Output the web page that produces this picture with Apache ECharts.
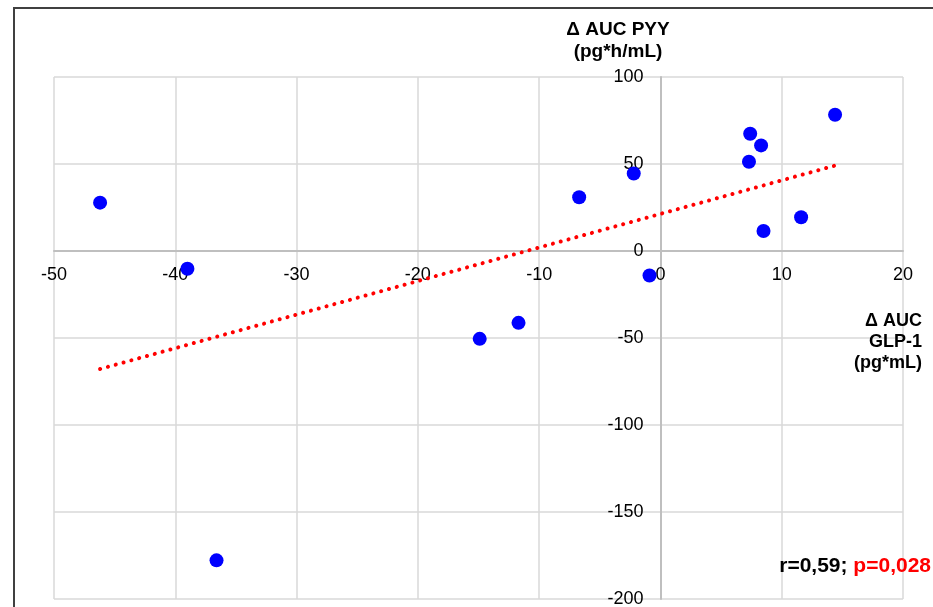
<!DOCTYPE html>
<html>
<head>
<meta charset="utf-8">
<script src="https://cdn.jsdelivr.net/npm/echarts@6/dist/echarts.min.js"></script>
<style>
  html, body { margin: 0; padding: 0; background: #fff; }
  #frame { position: absolute; left: 13px; top: 7px; width: 920px; height: 600px;
           border-left: 2px solid #404040; border-top: 2px solid #404040; }
  #chart { position: absolute; left: 0; top: 0; width: 933px; height: 607px; }
</style>
</head>
<body>
<div id="frame"></div>
<div id="chart"></div>
<script>
// Δ AUC GLP-1 (x) vs Δ AUC PYY (y), one point per subject
var glp1 = [-46.2, -39.0, -36.6, -14.9, -11.7, -6.7, -2.2, -0.9, 7.3, 7.4, 8.3, 8.5, 11.6, 14.4];
var pyy = [27.8, -10.2, -177.8, -50.5, -41.3, 30.9, 44.5, -14.1, 51.3, 67.4, 60.7, 11.5, 19.4, 78.3];

// linear trend line, endpoints
var trendX = [-46.2, 14.4];
var trendY = [-67.8, 49.1];

var xTicks = { min: -50, max: 20, step: 10 };
var yTicks = { min: -200, max: 100, step: 50 };

var chart = echarts.init(document.getElementById('chart'));
var font = 'Liberation Sans, Arial, sans-serif';

var points = glp1.map(function (x, i) { return [x, pyy[i]]; });
var trend = trendX.map(function (x, i) { return [x, trendY[i]]; });

var gridBox = { left: 54, right: 30, top: 77, bottom: 8 };
var plotW = 933 - gridBox.left - gridBox.right;
var plotH = 607 - gridBox.top - gridBox.bottom;
// axes cross at zero: shift them in from the grid edges
var xAxisShift = -plotH * (0 - yTicks.min) / (yTicks.max - yTicks.min);
var yAxisShift = -plotW * (0 - xTicks.min) / (xTicks.max - xTicks.min);

var option = {
  animation: false,
  grid: Object.assign({ outerBoundsMode: 'none', containLabel: false }, gridBox),
  xAxis: {
    type: 'value',
    min: xTicks.min,
    max: xTicks.max,
    interval: xTicks.step,
    position: 'bottom',
    offset: xAxisShift,
    axisLine: { onZero: false, lineStyle: { color: '#bfbfbf', width: 2 } },
    axisTick: { show: false },
    axisLabel: { color: '#000', fontSize: 18, fontFamily: font, margin: 15 },
    splitLine: { lineStyle: { color: '#d9d9d9', width: 1.5 } }
  },
  yAxis: {
    type: 'value',
    min: yTicks.min,
    max: yTicks.max,
    interval: yTicks.step,
    position: 'left',
    offset: yAxisShift,
    axisLine: { show: true, onZero: false, lineStyle: { color: '#bfbfbf', width: 2 } },
    axisTick: { show: false },
    axisLabel: { color: '#000', fontSize: 18, fontFamily: font, margin: 17 },
    splitLine: { lineStyle: { color: '#d9d9d9', width: 1.5 } }
  },
  series: [{
    type: 'line',
    data: trend,
    showSymbol: false,
    silent: true,
    z: 3,
    lineStyle: { color: '#ff0000', width: 4, type: [0.1, 8], cap: 'round' }
  }, {
    type: 'scatter',
    data: points,
    symbolSize: 14,
    z: 4,
    itemStyle: { color: '#0000ff', opacity: 1 }
  }],
  graphic: [{
    type: 'text',
    x: 618, y: 19, z: 100,
    style: {
      text: 'Δ AUC PYY\n(pg*h/mL)',
      font: 'bold 19px ' + font,
      fill: '#000',
      align: 'center',
      lineHeight: 22
    }
  }, {
    type: 'text',
    x: 922, y: 311, z: 100,
    style: {
      text: 'Δ AUC\nGLP-1\n(pg*mL)',
      font: 'bold 18px ' + font,
      fill: '#000',
      align: 'right',
      lineHeight: 21
    }
  }, {
    type: 'text',
    x: 931, y: 556, z: 100,
    style: {
      text: '{k|r=0,59; }{p|p=0,028}',
      align: 'right',
      rich: {
        k: { font: 'bold 21px ' + font, fill: '#000' },
        p: { font: 'bold 21px ' + font, fill: '#ff0000' }
      }
    }
  }]
};
chart.setOption(option);
</script>
</body>
</html>
